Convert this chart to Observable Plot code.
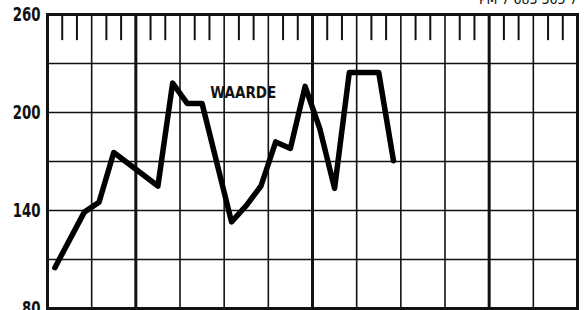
<!DOCTYPE html>
<html><head><meta charset="utf-8">
<script src="https://cdn.jsdelivr.net/npm/d3@7"></script>
<script src="https://cdn.jsdelivr.net/npm/@observablehq/plot@0.6"></script>
<style>
html,body{margin:0;padding:0;background:#fff;overflow:hidden}
svg{display:block}
</style></head><body><div id="chart"></div>
<script>
// month index (0 = first month) and value at each visible vertex of the line
const months = [0, 2, 3, 4, 7, 8, 9, 10, 12, 13, 14, 15, 16, 17, 18, 19, 20, 21, 22, 23];
const values = [105, 139, 145, 175.5, 155, 218, 205.5, 205.5, 133, 143, 155, 182, 178, 216, 190, 153.5, 224.5, 224.5, 224.5, 170.5];

const yTickLabels = [80, 140, 200, 260];
const yGrid = [110, 140, 170, 200, 230];
const quarterLines = [-0.5, 2.5, 8.5, 11.5, 14.5, 20.5, 23.5, 26.5, 32.5, 35.5];
const yearLines = [5.5, 17.5, 29.5];
const monthTicks = [0.5, 1.5, 3.5, 4.5, 6.5, 7.5, 9.5, 10.5, 12.5, 13.5, 15.5, 16.5, 18.5, 19.5, 21.5, 22.5, 24.5, 25.5, 27.5, 28.5, 30.5, 31.5, 33.5, 34.5];
const tickTop = 260, tickBottom = 244;
const seriesLabel = "WAARDE";
const seriesLabelAt = {x: 12.8, y: 212};
const codeText = "PM 7 683 365 7";

const data = months.map((m, i) => ({month: m, value: values[i]}));
const font = '"DejaVu Sans Condensed", "Liberation Sans Narrow", sans-serif';

const chart = Plot.plot({
  width: 584,
  height: 310,
  marginLeft: 47,
  marginRight: 7,
  marginTop: 14,
  marginBottom: 2,
  style: {fontFamily: font, background: "#fff", color: "#111"},
  x: {domain: [-0.5, 35.5], axis: null},
  y: {domain: [80, 260], axis: null, label: null},
  marks: [
    Plot.ruleY(yGrid, {stroke: "#111", strokeWidth: 1.6}),
    Plot.ruleX(quarterLines, {stroke: "#111", strokeWidth: 1.6}),
    Plot.ruleX(yearLines, {stroke: "#111", strokeWidth: 3}),
    Plot.ruleX(monthTicks, {y1: tickTop, y2: tickBottom, stroke: "#111", strokeWidth: 2}),
    Plot.frame({stroke: "#111", strokeWidth: 3}),
    Plot.line(data, {x: "month", y: "value", stroke: "#000", strokeWidth: 5.5, strokeLinejoin: "round", strokeLinecap: "round"}),
    Plot.text([seriesLabel], {x: seriesLabelAt.x, y: seriesLabelAt.y, text: d => d, fontSize: 15, fontWeight: "bold", fill: "#111", fontFamily: font, ariaLabel: "series label"}),
    Plot.axisY(yTickLabels, {tickSize: 0, tickPadding: 7, fontSize: 19, fontWeight: "bold", fill: "#111", fontFamily: font, anchor: "left", label: null}),
    Plot.text([codeText], {frameAnchor: "top-right", text: d => d, textAnchor: "end", lineAnchor: "bottom", dy: -11, fontSize: 14, fill: "#111", fontFamily: font})
  ]
});
// narrow the heavy condensed lettering like the original
d3.select(chart).selectAll('g[aria-label="y-axis tick label"] text').each(function () {
  const t = this.getAttribute("transform") || "";
  this.setAttribute("transform", t + " scale(0.78,1)");
});
d3.select(chart).selectAll('g[aria-label="series label"] text').each(function () {
  const t = this.getAttribute("transform") || "";
  this.setAttribute("transform", t + " scale(0.76,1)");
});
document.getElementById("chart").appendChild(chart);
</script>
</body></html>
